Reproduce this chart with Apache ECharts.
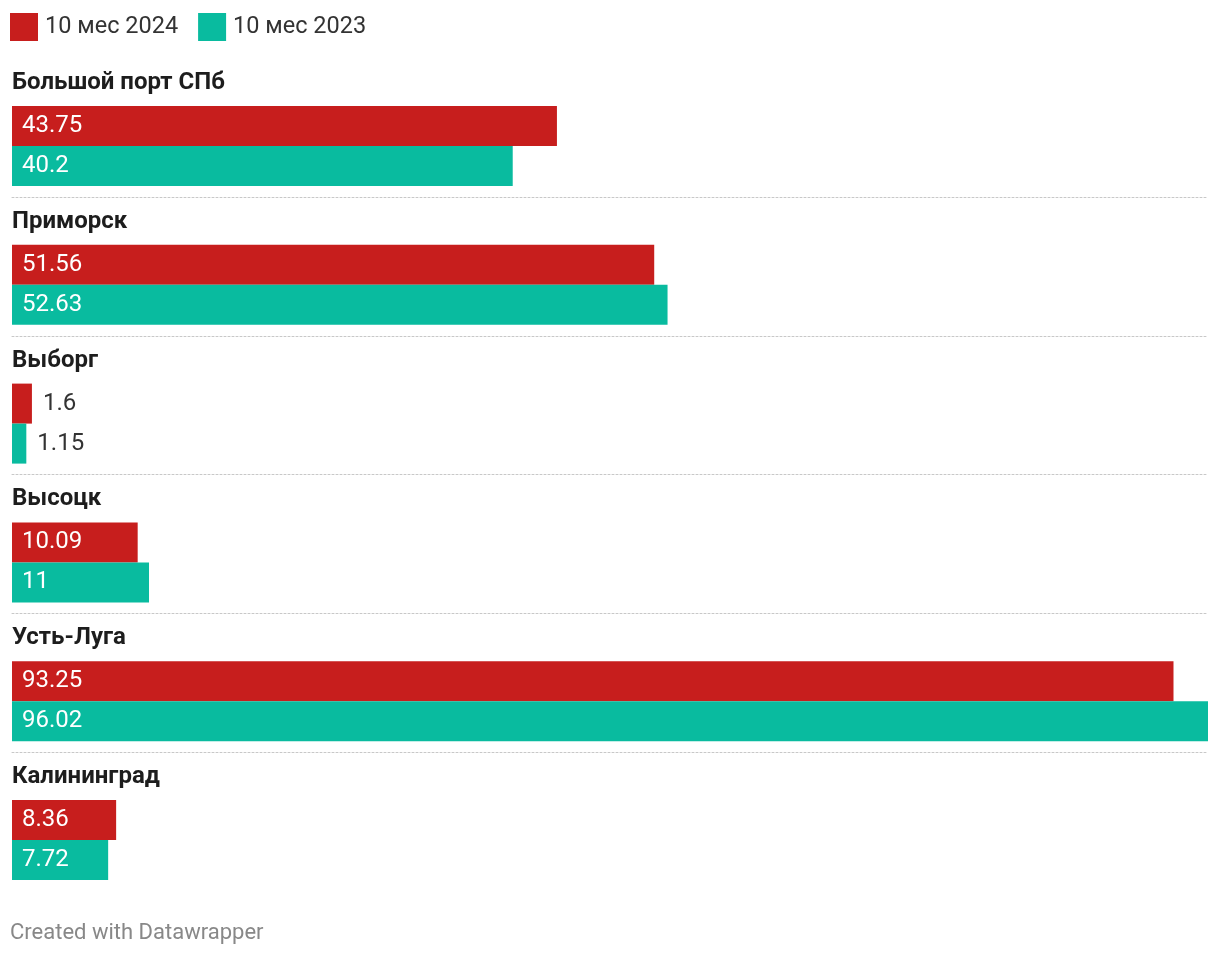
<!DOCTYPE html>
<html><head><meta charset="utf-8">
<script src="https://cdn.jsdelivr.net/npm/echarts@6/dist/echarts.min.js"></script>
<style>html,body{margin:0;padding:0;background:#fff}#c{width:1220px;height:956px}</style>
</head><body><div id="c"></div>
<script>
const categories = ['Большой порт СПб','Приморск','Выборг','Высоцк','Усть-Луга','Калининград'];
const seriesNames = ['10 мес 2024','10 мес 2023'];
const values2024 = [43.75, 51.56, 1.6, 10.09, 93.25, 8.36];
const values2023 = [40.2, 52.63, 1.15, 11, 96.02, 7.72];
const colors = ['#c71e1d', '#09bb9f'];
const footer = 'Created with Datawrapper';

const FONT = 'Roboto, "Noto Sans", sans-serif';
const firstTop = 106, pitch = 138.8, barH = 40;
const maxVal = Math.max(...values2024, ...values2023);

const grids = [], xAxes = [], yAxes = [], titles = [], series = [];
categories.forEach((cat, i) => {
  const top = firstTop + i * pitch;
  grids.push({left: 12, width: 1196, top: top, height: barH * 2});
  xAxes.push({
    gridIndex: i, type: 'value', min: 0, max: maxVal,
    position: 'bottom', offset: 11,
    axisLine: {show: i < categories.length - 1, lineStyle: {color: '#c8c8c8', type: [2, 2], width: 1}},
    axisTick: {show: false}, axisLabel: {show: false}, splitLine: {show: false}
  });
  yAxes.push({
    gridIndex: i, type: 'category', data: [cat], inverse: true, show: false
  });
  titles.push({
    text: cat, left: 12, top: top - 35, padding: 0,
    textStyle: {fontFamily: FONT, fontSize: 24, fontWeight: 'bold', color: '#1d1d1d'}
  });
  [values2024, values2023].forEach((arr, s) => {
    const v = arr[i];
    const small = v < 5;
    series.push({
      type: 'bar', name: seriesNames[s], xAxisIndex: i, yAxisIndex: i,
      barWidth: barH, barGap: '0%', barCategoryGap: 0,
      itemStyle: {color: colors[s]},
      label: {
        show: true,
        position: small ? 'right' : 'insideLeft',
        distance: small ? 11 : 10,
        color: small ? '#333333' : '#ffffff',
        fontFamily: FONT, fontSize: 24
      },
      data: [v]
    });
  });
});
titles.push({
  text: footer, left: 10, top: 922, padding: 0,
  textStyle: {fontFamily: FONT, fontSize: 22, fontWeight: 'normal', color: '#888888'}
});

const chart = echarts.init(document.getElementById('c'), null, {renderer: 'canvas'});
chart.setOption({
  animation: false,
  title: titles,
  legend: {
    data: seriesNames, left: 10, top: 13, padding: 0,
    itemWidth: 28, itemHeight: 28, itemGap: 20, icon: 'rect',
    textStyle: {fontFamily: FONT, fontSize: 23.5, color: '#333333', padding: [3, 0, 0, 2]}
  },
  grid: grids, xAxis: xAxes, yAxis: yAxes, series: series
});
</script></body></html>
